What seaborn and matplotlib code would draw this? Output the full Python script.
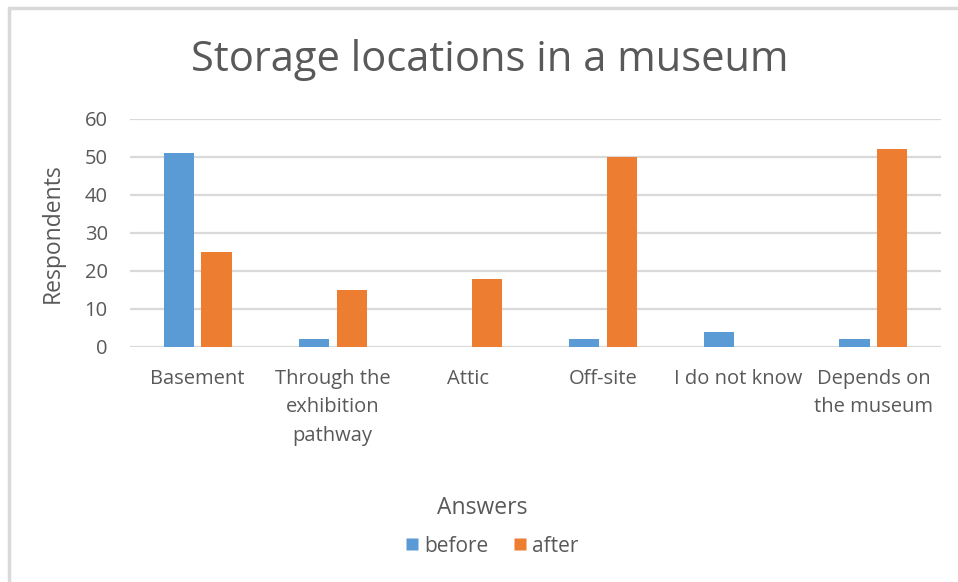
import numpy as np
import pandas as pd
import seaborn as sns
import matplotlib.pyplot as plt
from matplotlib.lines import Line2D

categories = ["Basement", "Through the\nexhibition\npathway", "Attic", "Off-site",
              "I do not know", "Depends on\nthe museum"]
before = [51, 2, 0, 2, 4, 2]
after = [25, 15, 18, 50, 0, 52]
series = ["before", "after"]
colors = {"before": "#5B9BD5", "after": "#ED7D31"}
yticks = [0, 10, 20, 30, 40, 50, 60]

df = pd.DataFrame({
    "Answers": categories * 2,
    "Respondents": before + after,
    "series": ["before"] * len(categories) + ["after"] * len(categories),
})

sns.set_theme(style="white")
plt.rcParams["font.family"] = ["Open Sans", "DejaVu Sans"]
text_c = "#595959"

fig = plt.figure(figsize=(9.58, 5.82), dpi=100)
ax = fig.add_axes([130 / 958, 1 - 347 / 582, (941 - 130) / 958, (347 - 119) / 582])

sns.barplot(data=df, x="Answers", y="Respondents", hue="series", hue_order=series,
            palette=colors, width=0.56, gap=0.2, ax=ax, legend=False,
            saturation=1, edgecolor="none")

ax.set_ylim(0, 60)
ax.set_xlim(-0.5, len(categories) - 0.5)
ax.set_yticks(yticks)
ax.yaxis.grid(True, color="#D9D9D9", linewidth=1.6)
ax.set_axisbelow(True)
for s in ax.spines.values():
    s.set_visible(False)
ax.tick_params(axis="both", length=0, labelsize=14.5, colors=text_c)
ax.tick_params(axis="x", pad=16)
ax.tick_params(axis="y", pad=16)
for lbl in ax.get_xticklabels():
    lbl.set_linespacing(1.55)

ax.set_xlabel("")
ax.set_ylabel("Respondents", fontsize=16.5, color=text_c, labelpad=14)

fig.text(490 / 958, 1 - 60 / 582, "Storage locations in a museum", ha="center", va="center",
         fontsize=30, color=text_c)
fig.text(482 / 958, 1 - 508 / 582, "Answers", ha="center", va="center",
         fontsize=16.5, color=text_c)

handles = [Line2D([], [], marker="s", linestyle="none", markersize=8,
                  markerfacecolor=colors[s], markeredgecolor="none") for s in series]
fig.legend(handles, series, loc="center", bbox_to_anchor=(490 / 958, 1 - 546 / 582),
           ncol=2, frameon=False, fontsize=15, labelcolor=text_c,
           handletextpad=0.1, columnspacing=1.0, handlelength=1.0)

# chart border (only top and left edges visible in the crop)
fig.add_artist(Line2D([9 / 958, 1], [1 - 8 / 582, 1 - 8 / 582], color="#D9D9D9", linewidth=2.5,
                      transform=fig.transFigure))
fig.add_artist(Line2D([9 / 958, 9 / 958], [0, 1 - 8 / 582], color="#D9D9D9", linewidth=2.5,
                      transform=fig.transFigure))

fig.savefig("out.png", dpi=100, facecolor="white")
